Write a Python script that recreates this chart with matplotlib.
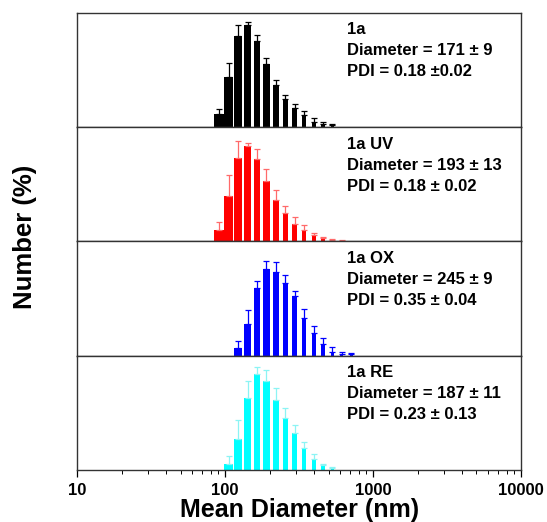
import numpy as np
from matplotlib import pyplot as plt

plt.rcParams['font.family'] = ['Liberation Sans', 'DejaVu Sans']
plt.rcParams['font.weight'] = 'bold'

# Zetasizer size bins (nm)
bins = [91.28, 105.7, 122.4, 141.8, 164.2, 190.1, 220.2, 255.0,
        295.3, 342.0, 396.1, 458.7, 531.2, 615.1, 712.4]

# 1a
x_1a = bins[0:13]
y_1a = [2.8, 11.0, 19.9, 22.4, 18.8, 13.7, 9.1, 6.2, 4.2, 2.7, 1.2, 0.7, 0.4]
e_1a = [1.2, 3.1, 2.3, 0.6, 1.3, 1.3, 1.2, 0.9, 0.9, 0.8, 0.7, 0.4, 0.2]

# 1a UV
x_uv = bins[0:14]
y_uv = [2.5, 10.0, 18.2, 20.8, 17.9, 13.3, 9.1, 6.2, 3.9, 2.5, 1.4, 0.7, 0.4, 0.15]
e_uv = [1.8, 4.6, 3.7, 0.7, 2.2, 2.6, 2.1, 1.6, 1.4, 1.1, 0.4, 0.3, 0.2, 0.1]

# 1a OX
x_ox = bins[2:15]
y_ox = [1.7, 7.0, 14.8, 19.0, 18.3, 15.9, 13.0, 8.3, 5.0, 2.5, 0.9, 0.4, 0.3]
e_ox = [1.5, 3.0, 1.6, 1.7, 2.2, 1.8, 1.1, 2.0, 1.5, 1.3, 0.9, 0.4, 0.2]

# 1a RE
x_re = bins[1:13]
y_re = [1.3, 6.7, 15.7, 20.9, 19.5, 15.4, 11.3, 8.0, 4.9, 2.5, 1.1, 0.4]
e_re = [1.7, 4.3, 3.7, 1.6, 2.3, 2.5, 2.2, 1.8, 1.3, 0.9, 0.2, 0.15]

labels = ['1a', '1a UV', '1a OX', '1a RE']
diameters = ['171 ± 9', '193 ± 13', '245 ± 9', '187 ± 11']
pdis = ['0.18 ±0.02', '0.18 ± 0.02', '0.35 ± 0.04', '0.23 ± 0.13']
colors = ['black', 'red', 'blue', 'cyan']
err_colors = ['black', '#ff6a6a', 'blue', '#8cf4f4']

series = [(x_1a, y_1a, e_1a), (x_uv, y_uv, e_uv), (x_ox, y_ox, e_ox), (x_re, y_re, e_re)]

fig, axes = plt.subplots(4, 1, figsize=(5.47, 5.22), dpi=100, sharex=True)
fig.subplots_adjust(left=0.141, right=0.9525, bottom=0.0996, top=0.9757, hspace=0)

# bar width in decades, shrinking with size like the original plot
def bar_edges(x):
    x = np.asarray(x)
    wdec = 0.0675 * (x / 91.28) ** -0.63
    left = x * 10 ** (-wdec / 2)
    right = x * 10 ** (wdec / 2)
    return left, right - left

for i, ax in enumerate(axes):
    x, y, e = series[i]
    left, w = bar_edges(x)
    ax.bar(left, y, width=w, align='edge', color=colors[i], linewidth=0)
    ax.errorbar(x, y, yerr=[np.zeros(len(e)), e], fmt='none', ecolor=err_colors[i],
                elinewidth=0.9, capsize=2.2, capthick=0.9)
    ax.set_xscale('log')
    ax.set_xlim(10, 10000)
    ax.set_ylim(0, 25)
    ax.set_yticks([])
    for s in ax.spines.values():
        s.set_linewidth(1.0)
        s.set_color('#333333')
    ax.tick_params(axis='x', which='both', direction='out', top=False,
                   bottom=(i == 3), pad=4)
    ax.tick_params(axis='x', which='major', length=5, width=0.9)
    ax.tick_params(axis='x', which='minor', length=3, width=0.7)
    txt = f"{labels[i]}\nDiameter = {diameters[i]}\nPDI = {pdis[i]}"
    ax.text(0.607, 0.915, txt, transform=ax.transAxes, ha='left', va='top',
            fontsize=12, fontweight='bold', linespacing=1.5)

axes[3].set_xticks([10, 100, 1000, 10000])
axes[3].set_xticklabels(['10', '100', '1000', '10000'], fontsize=12, fontweight='bold')
axes[3].set_xlabel('Mean Diameter (nm)', fontsize=18, fontweight='bold', labelpad=0)
fig.text(0.046, 0.546, 'Number (%)', rotation=90, ha='center', va='center',
         fontsize=18.5, fontweight='bold')

fig.savefig('out.png', dpi=100)
